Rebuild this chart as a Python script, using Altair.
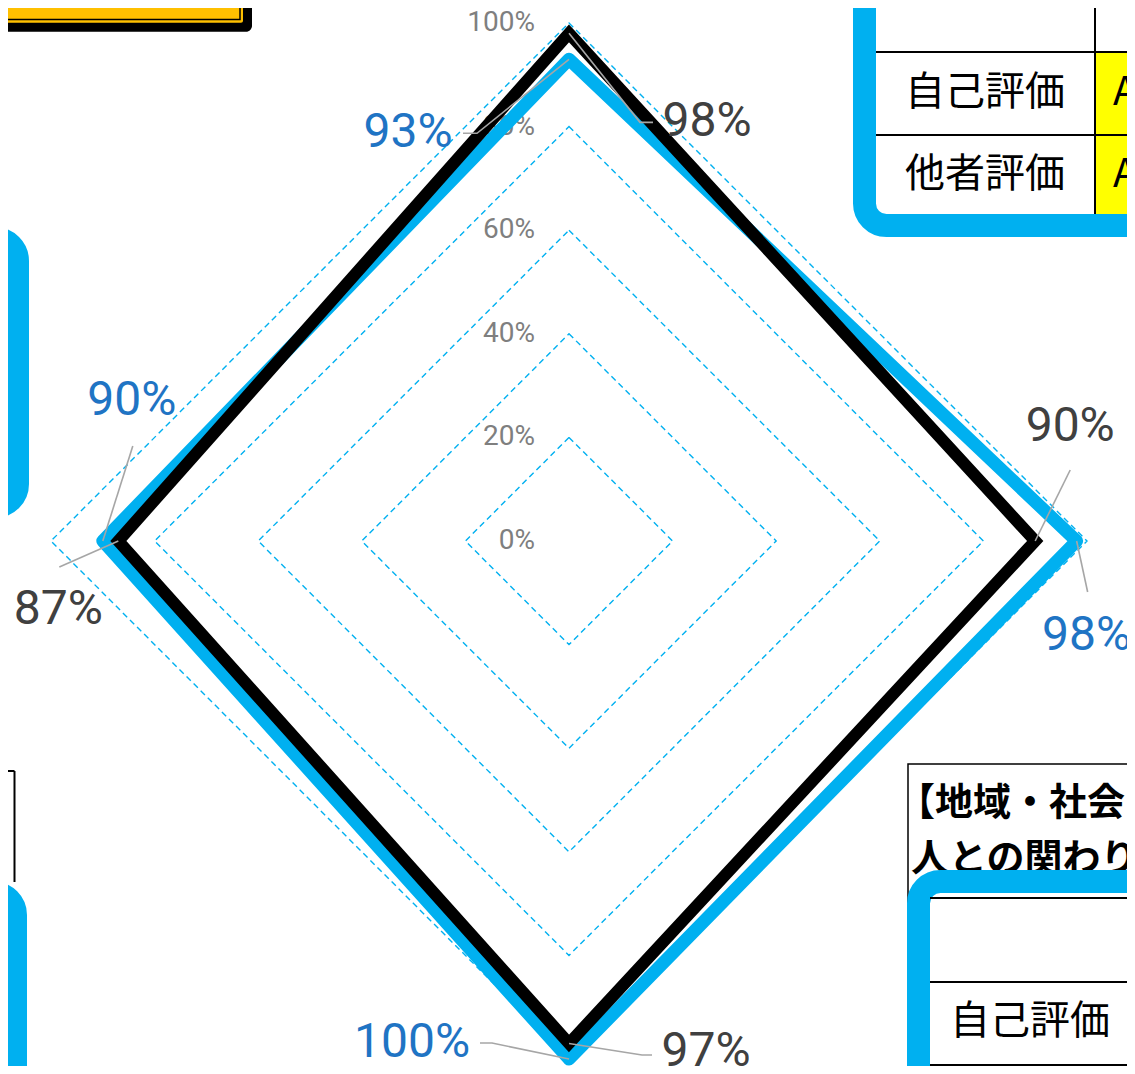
import altair as alt
import pandas as pd
import math

# ---------------- data ----------------
categories = ["項目1", "項目2", "項目3", "項目4"]      # clockwise from the top
series_names = ["自己評価", "他者評価"]
self_values = [93, 98, 100, 90]                       # blue series (%)
other_values = [98, 90, 97, 87]                       # black series (%)
grid_levels = [20, 40, 60, 80, 100]
tick_values = [0, 20, 40, 60, 80, 100]
tick_labels = ["0%", "20%", "40%", "60%", "80%", "100%"]

table_row_labels = ["自己評価", "他者評価"]
table_grade = ["A", "A"]
side_title_lines = ["【地域・社会・", "人との関わり】"]

# ---------------- layout / style ----------------
R = 518.0            # pixels for 100 %
CX, CY = 569.0, 541.0
MARGIN = 8
W, H = 1119, 1058

BLUE = "#00B0F0"
LABEL_COLORS = {"自己評価": "#1F74C4", "他者評価": "#404040"}
JP_FONT = "Noto Sans CJK JP"
NUM_FONT = "Roboto"


def U(X):
    return (X - CX) / R


def V(Y):
    return (CY - Y) / R


xs = alt.Scale(domain=[U(MARGIN), U(MARGIN + W)], nice=False, zero=False)
ys = alt.Scale(domain=[V(MARGIN + H), V(MARGIN)], nice=False, zero=False)


def X(f="u"):
    return alt.X(f"{f}:Q", scale=xs, axis=None)


def Y(f="v"):
    return alt.Y(f"{f}:Q", scale=ys, axis=None)


def polar(i, value):
    th = math.radians(90 * i)
    r = value / 100.0
    return r * math.sin(th), r * math.cos(th)


# ---------------- decorations (surrounding sheet) ----------------
def rect_layer(rects, radius=0):
    rows = [dict(u=U(a), u2=U(b), v=V(c), v2=V(d), fill=f, stroke=s, sw=w)
            for (a, c, b, d, f, s, w) in rects]
    return alt.Chart(pd.DataFrame(rows)).mark_rect(cornerRadius=radius, clip=True).encode(
        x=X("u"), x2="u2", y=Y("v"), y2="v2",
        fill=alt.Fill("fill:N", scale=None),
        stroke=alt.Stroke("stroke:N", scale=None),
        strokeWidth=alt.StrokeWidth("sw:Q", scale=None),
    )


def rule_layer(lines, width=2, color="#000000"):
    rows = [dict(u=U(a), v=V(b), u2=U(c), v2=V(d)) for (a, b, c, d) in lines]
    return alt.Chart(pd.DataFrame(rows)).mark_rule(strokeWidth=width, color=color, clip=True).encode(
        x=X("u"), y=Y("v"), x2="u2", y2="v2")


def text_layer(items, size, align="center", weight="normal", color="#000000"):
    rows = [dict(u=U(a), v=V(b), t=t) for (a, b, t) in items]
    return alt.Chart(pd.DataFrame(rows)).mark_text(
        font=JP_FONT, fontSize=size, align=align, baseline="middle",
        fontWeight=weight, color=color, clip=True).encode(x=X("u"), y=Y("v"), text="t:N")


deco = [
    # top-left yellow title box
    rect_layer([(-20, -20, 252, 31.7, "#000000", "#000000", 0)], 6),
    rect_layer([(-20, -20, 243, 22.7, "#FFC000", "#FFC000", 0)], 2),
    rect_layer([(-20, -20, 240, 19.4, "#FFC000", "#000000", 1.5)], 0),
    # top-right table
    rect_layer([(864.5, -200, 1400, 225.5, "#FFFFFF", BLUE, 23)], 22),
    rect_layer([(1095, 52, 1400, 214, "#FFFF00", "#FFFF00", 0)], 0),
    rule_layer([(876, 52, 1140, 52), (876, 135, 1140, 135), (1095, 0, 1095, 214)]),
    text_layer([(985, 93, table_row_labels[0]), (985, 175, table_row_labels[1])], 40),
    text_layer([(1113, 93, table_grade[0]), (1113, 175, table_grade[1])], 40, align="left"),
    # left tables
    rule_layer([(6.5, 113, 6.5, 228), (0, 771, 14.5, 771), (14.5, 771, 14.5, 882)]),
    rect_layer([(-200, 239, 17, 506, "#FFFFFF", BLUE, 24)], 22),
    rect_layer([(-200, 893, 15.5, 1400, "#FFFFFF", BLUE, 23)], 22),
    # bottom-right table
    rect_layer([(908, 764, 1400, 1400, "#FFFFFF", "#000000", 1.5)], 0),
    text_layer([(897, 804, side_title_lines[0])], 38, align="left", weight="bold"),
    text_layer([(911, 860, side_title_lines[1])], 38, align="left", weight="bold"),
    rect_layer([(918.5, 881.5, 1400, 1400, "#FFFFFF", BLUE, 23)], 22),
    rule_layer([(930, 898, 1140, 898), (930, 982, 1140, 982), (930, 1065, 1140, 1065)]),
    text_layer([(1030, 1022, table_row_labels[0])], 40),
]

# ---------------- radar grid ----------------
grid_rows = []
for lv in grid_levels:
    for i in range(len(categories)):
        u, v = polar(i, lv)
        grid_rows.append(dict(level=lv, idx=i, u=u, v=v))
grid = alt.Chart(pd.DataFrame(grid_rows)).mark_line(
    interpolate="linear-closed", color=BLUE, strokeWidth=1.4, strokeDash=[6, 4]
).encode(x=X(), y=Y(), detail="level:N", order="idx:Q")

tick_df = pd.DataFrame(dict(u=[U(535)] * len(tick_values),
                            v=[t / 100.0 for t in tick_values], t=tick_labels))
ticks = alt.Chart(tick_df).mark_text(
    font=NUM_FONT, fontSize=28, align="right", baseline="middle", color="#7F7F7F"
).encode(x=X(), y=Y(), text="t:N")

# ---------------- series ----------------
poly_rows = []
for name, vals in zip(series_names, [self_values, other_values]):
    for i, val in enumerate(vals):
        u, v = polar(i, val)
        poly_rows.append(dict(series=name, idx=i, u=u, v=v, val=val))
poly = pd.DataFrame(poly_rows)

blue_line = alt.Chart(poly[poly.series == series_names[0]]).mark_line(
    interpolate="linear-closed", color=BLUE, strokeWidth=13, strokeJoin="round"
).encode(x=X(), y=Y(), order="idx:Q")
black_line = alt.Chart(poly[poly.series == series_names[1]]).mark_line(
    interpolate="linear-closed", color="#000000", strokeWidth=12, strokeJoin="miter"
).encode(x=X(), y=Y(), order="idx:Q")

# label placement: offsets in px from the data point (label centre, leader elbows)
label_layout = {
    (series_names[0], 0): ((-161, 74), [(-106, 74), (-92, 74)]),
    (series_names[0], 1): ((10, 95), [(11, 51)]),
    (series_names[0], 2): ((-157, -16), [(-89, -16), (-77, -16)]),
    (series_names[0], 3): ((29, -140), [(30, -95)]),
    (series_names[1], 0): ((138, 89), [(84, 89), (71, 89)]),
    (series_names[1], 1): ((35, -114), [(35, -71)]),
    (series_names[1], 2): ((137, 8.5), [(83, 11.5), (73, 11.5)]),
    (series_names[1], 3): ((-60, 69), [(-59, 26)]),
}

lab_rows, lead_rows = [], []
for r in poly_rows:
    (dx, dy), elbows = label_layout[(r["series"], r["idx"])]
    lab_rows.append(dict(series=r["series"], u=r["u"] + dx / R, v=r["v"] - dy / R,
                         t=f"{r['val']}%"))
    key = f"{r['series']}-{r['idx']}"
    pts = [(r["u"] + ex / R, r["v"] - ey / R) for ex, ey in elbows] + [(r["u"], r["v"])]
    for k, (pu, pv) in enumerate(pts):
        lead_rows.append(dict(key=key, k=k, u=pu, v=pv))

leaders = alt.Chart(pd.DataFrame(lead_rows)).mark_line(
    color="#A6A6A6", strokeWidth=1.6
).encode(x=X(), y=Y(), detail="key:N", order="k:Q")

labels = alt.Chart(pd.DataFrame(lab_rows)).mark_text(
    font=NUM_FONT, fontSize=48, align="center", baseline="middle"
).encode(
    x=X(), y=Y(), text="t:N",
    color=alt.Color("series:N", scale=alt.Scale(domain=series_names,
                                                range=[LABEL_COLORS[s] for s in series_names]),
                    legend=None),
)

chart = alt.layer(*deco, grid, ticks, blue_line, black_line, leaders, labels).properties(
    width=W, height=H, padding=0, autosize=alt.AutoSizeParams(type="none"),
    background="#FFFFFF",
).configure_view(stroke=None)

chart.save("out.html", embed_options={"renderer": "svg", "actions": False})
